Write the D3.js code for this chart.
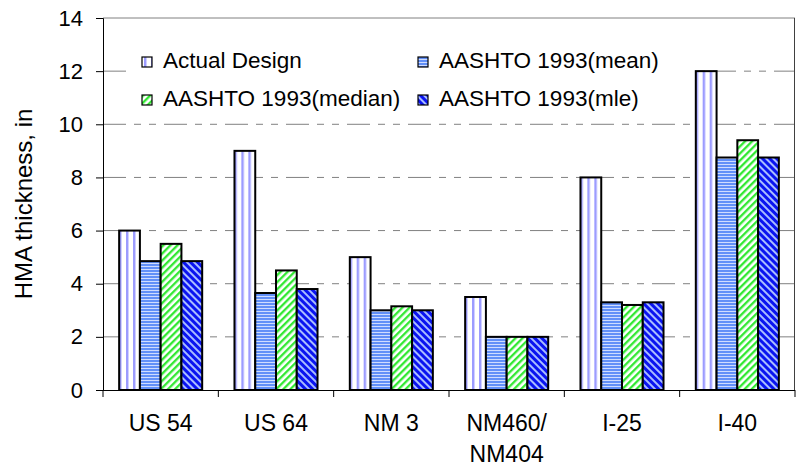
<!DOCTYPE html>
<html>
<head>
<meta charset="utf-8">
<script src="https://cdn.jsdelivr.net/npm/d3@7"></script>
<style>
html,body{margin:0;padding:0;background:#fff;}
text{font-family:"Liberation Sans",Arial,sans-serif;fill:#000;}
</style>
</head>
<body>
<svg id="chart" width="798" height="475"></svg>
<script>
const categories = ["US 54", "US 64", "NM 3", "NM460/\nNM404", "I-25", "I-40"];
const seriesNames = ["Actual Design", "AASHTO 1993(mean)", "AASHTO 1993(median)", "AASHTO 1993(mle)"];
const actualDesign = [6, 9, 5, 3.5, 8, 12];
const aashtoMean   = [4.85, 3.65, 3.0, 2.0, 3.3, 8.75];
const aashtoMedian = [5.5, 4.5, 3.15, 2.0, 3.2, 9.4];
const aashtoMle    = [4.85, 3.8, 3.0, 2.0, 3.3, 8.75];
const yTicks = [0, 2, 4, 6, 8, 10, 12, 14];
const yTitle = "HMA thickness, in";

const seriesValues = [actualDesign, aashtoMean, aashtoMedian, aashtoMle];
const patternIds = ["pActual", "pMean", "pMedian", "pMle"];

const svg = d3.select("#chart");
const L = 103, R = 795, T = 18, B = 390;

// patterns
const defs = svg.append("defs");
{
  const p = defs.append("pattern").attr("id", "pActual").attr("patternUnits", "userSpaceOnUse")
    .attr("width", 7).attr("height", 10);
  p.append("rect").attr("width", 7).attr("height", 10).attr("fill", "#fff");
  p.append("rect").attr("x", 2).attr("width", 2).attr("height", 10).attr("fill", "#9c9cff");
  p.append("rect").attr("x", 4).attr("width", 1).attr("height", 10).attr("fill", "#d0d0ff");
}
{
  const p = defs.append("pattern").attr("id", "pMean").attr("patternUnits", "userSpaceOnUse")
    .attr("width", 10).attr("height", 3);
  p.append("rect").attr("width", 10).attr("height", 3).attr("fill", "#cfdcff");
  p.append("rect").attr("width", 10).attr("height", 2).attr("fill", "#6290f8");
}
{
  const p = defs.append("pattern").attr("id", "pMedian").attr("patternUnits", "userSpaceOnUse")
    .attr("width", 5).attr("height", 10).attr("patternTransform", "rotate(45)");
  p.append("rect").attr("width", 5).attr("height", 10).attr("fill", "#fff");
  p.append("rect").attr("width", 2).attr("height", 10).attr("fill", "#33e833");
  p.append("rect").attr("x", 2).attr("width", 1).attr("height", 10).attr("fill", "#b8f8b8");
}
{
  const p = defs.append("pattern").attr("id", "pMle").attr("patternUnits", "userSpaceOnUse")
    .attr("width", 5).attr("height", 10).attr("patternTransform", "rotate(-45)");
  p.append("rect").attr("width", 5).attr("height", 10).attr("fill", "#a9bdff");
  p.append("rect").attr("width", 3).attr("height", 10).attr("fill", "#0a14f0");
}

const x0 = d3.scaleBand().domain(categories).range([L, R]).paddingInner(0).paddingOuter(0);
const bw = x0.bandwidth();
const x1 = d3.scaleBand().domain(d3.range(seriesNames.length)).range([bw * 0.14, bw * 0.86]).padding(0);
const y = d3.scaleLinear().domain([0, 14]).range([B, T]);

// gridlines
svg.append("g").selectAll("line").data(yTicks.filter(t => t > 0 && t < 14)).join("line")
  .attr("x1", L).attr("x2", R).attr("y1", d => y(d)).attr("y2", d => y(d))
  .attr("stroke", "#808080").attr("stroke-width", 1)
  .attr("stroke-dasharray", "23,8,7,8,7,8");
// top line
svg.append("line").attr("x1", L).attr("x2", R).attr("y1", y(14)).attr("y2", y(14))
  .attr("stroke", "#808080").attr("stroke-width", 1);
// right border
svg.append("line").attr("x1", R - 0.5).attr("x2", R - 0.5).attr("y1", y(14)).attr("y2", B)
  .attr("stroke", "#404040").attr("stroke-width", 1);

// legend background
svg.append("rect").attr("x", 126).attr("y", 38).attr("width", 566).attr("height", 80).attr("fill", "#fff");

// bars
const groups = svg.append("g").selectAll("g").data(categories).join("g")
  .attr("transform", d => `translate(${x0(d)},0)`);
groups.selectAll("rect").data((d, i) => seriesValues.map((s, k) => ({k, v: s[i]}))).join("rect")
  .attr("x", d => x1(d.k)).attr("width", x1.bandwidth())
  .attr("y", d => y(d.v)).attr("height", d => y(0) - y(d.v))
  .attr("fill", d => `url(#${patternIds[d.k]})`)
  .attr("stroke", "#000").attr("stroke-width", 2);

// y axis
const yAxis = svg.append("g").attr("transform", `translate(${L},0)`)
  .call(d3.axisLeft(y).tickValues(yTicks).tickSize(7).tickPadding(13).tickFormat(d3.format("d")));
yAxis.select(".domain").attr("stroke", "#000");
yAxis.selectAll(".tick line").attr("stroke", "#000");
yAxis.selectAll("text").attr("font-size", 22).attr("font-family", "Liberation Sans, Arial, sans-serif").attr("fill", "#000");

// x axis
svg.append("line").attr("x1", L).attr("x2", R).attr("y1", B + 0.5).attr("y2", B + 0.5).attr("stroke", "#000");
const bounds = categories.map(c => x0(c)).concat([R]);
svg.append("g").selectAll("line").data(bounds).join("line")
  .attr("x1", d => d).attr("x2", d => d).attr("y1", B).attr("y2", B + 7).attr("stroke", "#000");
const xl = svg.append("g").selectAll("text").data(categories).join("text")
  .attr("text-anchor", "middle").attr("font-size", 23)
  .attr("x", d => x0(d) + bw / 2).attr("y", 431);
xl.each(function(d) {
  const lines = d.split("\n");
  const t = d3.select(this);
  lines.forEach((ln, i) => t.append("tspan").attr("x", x0(d) + bw / 2).attr("dy", i === 0 ? 0 : 31).text(ln));
});

// y title
svg.append("text").attr("transform", `translate(32,${(T + B) / 2}) rotate(-90)`)
  .attr("text-anchor", "middle").attr("font-size", 24).text(yTitle);

// legend
const legPos = [[142, 57], [418, 57], [142, 95], [418, 95]];
const leg = svg.append("g").selectAll("g").data(seriesNames).join("g")
  .attr("transform", (d, i) => `translate(${legPos[i][0]},${legPos[i][1]})`);
leg.append("rect").attr("width", 10).attr("height", 10)
  .attr("fill", (d, i) => `url(#${patternIds[i]})`).attr("stroke", "#000").attr("stroke-width", 1.2);
leg.append("text").attr("x", 21).attr("y", 11).attr("font-size", 22.5).text(d => d);
</script>
</body>
</html>
